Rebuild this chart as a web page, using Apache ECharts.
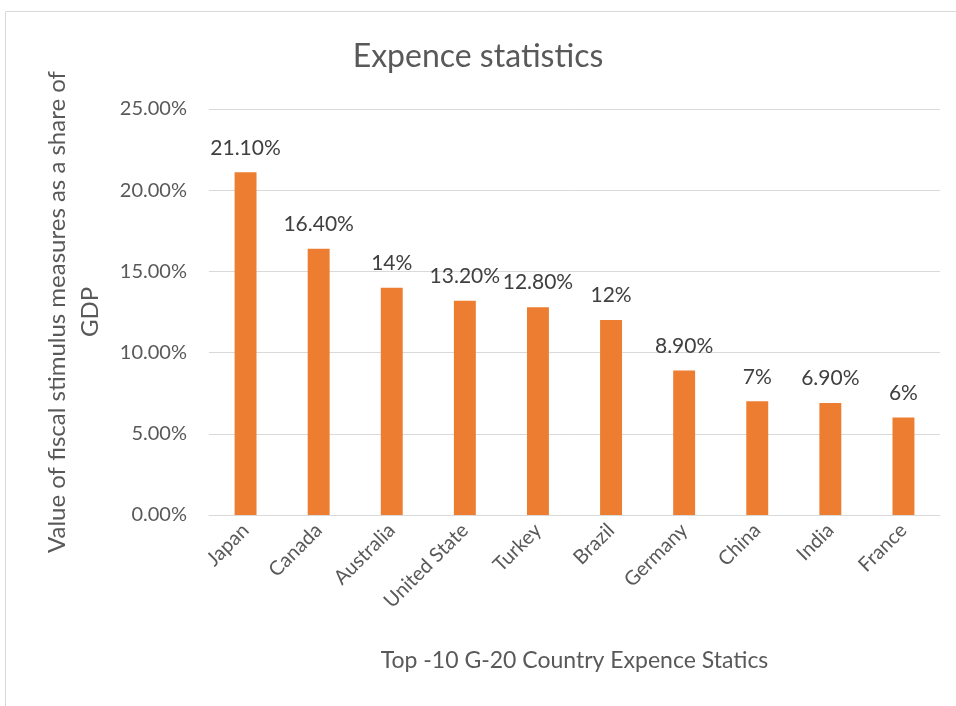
<!DOCTYPE html>
<html><head><meta charset="utf-8">
<script src="https://cdn.jsdelivr.net/npm/echarts@6/dist/echarts.min.js"></script>
<style>html,body{margin:0;padding:0;background:#fff}#c{width:956px;height:706px}</style>
</head><body><div id="c"></div>
<script>
const categories = ["Japan","Canada","Australia","United State","Turkey","Brazil","Germany","China","India","France"];
const values = [21.1,16.4,14,13.2,12.8,12,8.9,7,6.9,6];
const valueLabels = ["21.10%","16.40%","14%","13.20%","12.80%","12%","8.90%","7%","6.90%","6%"];
const yTicks = [0,5,10,15,20,25];
const FONT = "Lato, 'Open Sans', sans-serif";
const chart = echarts.init(document.getElementById('c'), null, {renderer:'canvas'});
chart.setOption({
  backgroundColor:'#fff',
  animation:false,
  graphic:[{type:'rect',shape:{x:5.5,y:11.5,width:960,height:710},style:{fill:'none',stroke:'#d9d9d9',lineWidth:1}}],
  title:{text:'Expence statistics',left:'center',top:36,textStyle:{fontFamily:FONT,fontSize:32,fontWeight:'normal',color:'#595959'}},
  grid:{left:209,right:16,top:109,bottom:191},
  xAxis:{type:'category',data:categories,
    name:'Top -10 G-20 Country Expence Statics',nameLocation:'middle',nameGap:134,
    nameTextStyle:{fontFamily:FONT,fontSize:23,color:'#595959'},
    axisLine:{lineStyle:{color:'#d9d9d9',width:1}},axisTick:{show:false},
    axisLabel:{rotate:45,fontFamily:FONT,fontSize:20,color:'#595959',margin:12,interval:0}},
  yAxis:{type:'value',min:yTicks[0],max:yTicks[yTicks.length-1],interval:5,
    name:'Value of fiscal stimulus measures as a share of\nGDP',nameLocation:'middle',nameGap:102,
    nameTextStyle:{fontFamily:FONT,fontSize:24,color:'#595959',lineHeight:33},
    axisLine:{show:false},axisTick:{show:false},
    splitLine:{lineStyle:{color:'#d9d9d9',width:1}},
    axisLabel:{fontFamily:FONT,fontSize:20,color:'#595959',margin:22,formatter:v=>v.toFixed(2)+'%'}},
  series:[{type:'bar',data:values,barWidth:'30%',
    itemStyle:{color:'#ed7d31'},
    label:{show:true,position:'top',distance:14,fontFamily:FONT,fontSize:21,color:'#404040',
      formatter:p=>valueLabels[p.dataIndex]}}]
});
</script></body></html>
